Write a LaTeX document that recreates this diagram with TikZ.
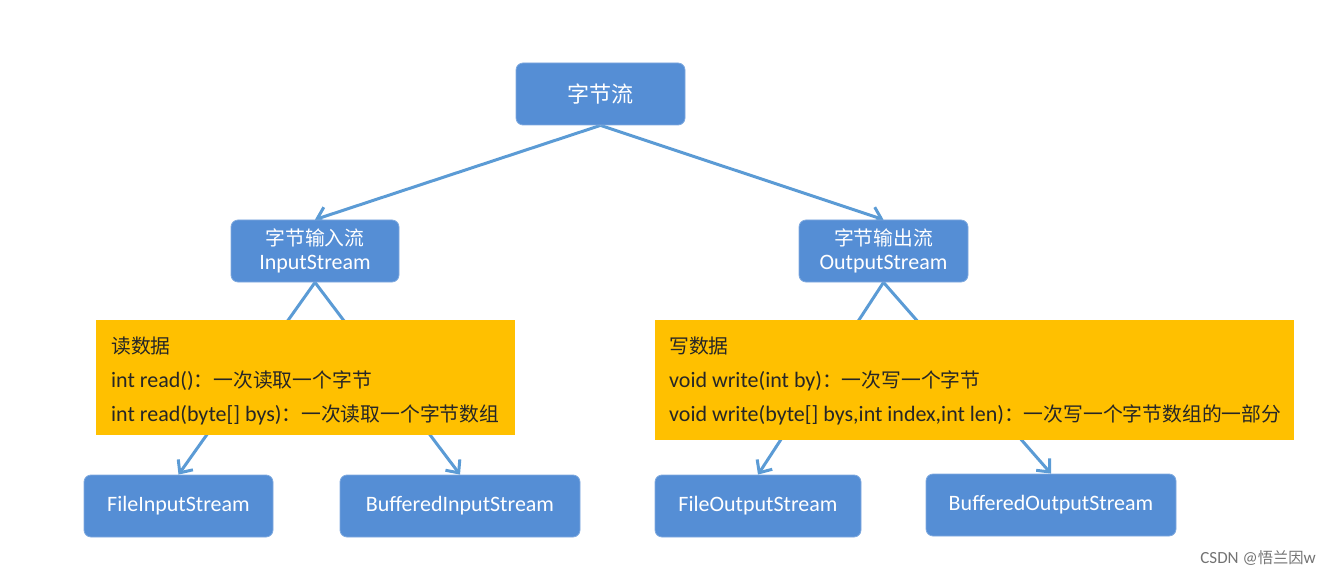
\documentclass[tikz,border=0pt]{standalone}
\usepackage{fontspec}
\setmainfont{Carlito}
\newfontfamily\cjk{Noto Sans CJK SC}[Scale=0.9]
\usetikzlibrary{arrows.meta,backgrounds}
\definecolor{boxblue}{HTML}{558ED5}
\definecolor{lineblue}{HTML}{5B9BD5}
\definecolor{notegold}{HTML}{FFC000}

\begin{document}
\begin{tikzpicture}[x=1pt,y=-1pt,line cap=round]

    % let's define some key values
    \def\rowtop{94}
    \def\rowmid{251}
    \def\rownote{320}
    \def\rowleaf{506}

    % Styles
    \tikzstyle{stream}=[rectangle, rounded corners=7pt, fill=boxblue, draw=boxblue!75!white, line width=0.8pt, text=white, inner sep=0pt, align=center, minimum height=62pt, font=\fontsize{22}{24}\selectfont]
    \tikzstyle{note}=[rectangle, fill=notegold, inner sep=0pt, anchor=north west]
    \tikzstyle{notetext}=[anchor=west, inner sep=0pt, text=black!85, align=left, font=\fontsize{22}{34}\selectfont]
    \tikzstyle{link}=[line width=3pt, lineblue, -{Straight Barb[length=10pt,width=18pt]}]

    \useasboundingbox (0,0) rectangle (1329,577);

    % root
    \node[stream, minimum width=169pt, font=\fontsize{24.5}{26}\selectfont] (bytes) at (600.5,\rowtop) {{\cjk 字节流}};

    % input and output streams
    \node[stream, minimum width=168pt] (instream) at (315,\rowmid) {{\cjk 字节输入流}\\InputStream};
    \node[stream, minimum width=169pt] (outstream) at (883.5,\rowmid) {{\cjk 字节输出流}\\OutputStream};

    % read note
    \node[note, minimum width=419pt, minimum height=115pt] (readnote) at (96,\rownote) {};
    \node[notetext] (readtext) at ([xshift=15pt,yshift=-3.5pt]readnote.west)
        {{\cjk 读数据}\\
         int read(){\cjk ：一次读取一个字节}\\
         int read(byte[] bys){\cjk ：一次读取一个字节数组}};
    % write note
    \node[note, minimum width=639pt, minimum height=120pt] (writenote) at (655,\rownote) {};
    \node[notetext] (writetext) at ([xshift=14pt,yshift=-1pt]writenote.west)
        {{\cjk 写数据}\\
         void write(int by){\cjk ：一次写一个字节}\\
         void write(byte[] bys,int index,int len){\cjk ：一次写一个字节数组的一部分}};

    % leaves
    \node[stream, minimum width=189pt] (fileinput) at (178.5,\rowleaf) {FileInputStream};
    \node[stream, minimum width=240pt] (bufinput) at (460,\rowleaf) {BufferedInputStream};
    \node[stream, minimum width=206pt] (fileoutput) at (758,\rowleaf) {FileOutputStream};
    \node[stream, minimum width=250pt] (bufoutput) at (1051,\rowleaf-1) {BufferedOutputStream};

    % watermark
    \node[anchor=east, text=black!55, inner sep=0pt, font=\fontsize{17}{19}\selectfont] (mark) at (1316,558) {CSDN @{\cjk 悟兰因}w};

    % links, behind the notes
    \begin{scope}[on background layer]
    \draw[link] (bytes.south) -- (instream.north);
    \draw[link] (bytes.south) -- (outstream.north);
    \draw[link] (instream.south) -- (fileinput.north);
    \draw[link] (instream.south) -- (bufinput.north);
    \draw[link] (outstream.south) -- (fileoutput.north);
    \draw[link] (outstream.south) -- (bufoutput.north);
    \end{scope}

\end{tikzpicture}
\end{document}
